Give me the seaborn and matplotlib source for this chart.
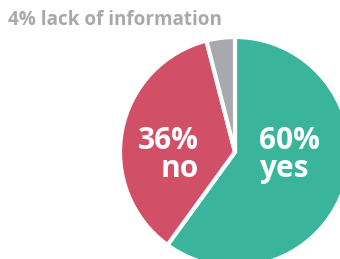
import matplotlib
matplotlib.use("Agg")
import matplotlib.pyplot as plt
import seaborn as sns

sns.set_theme(style="white")
plt.rcParams['font.family'] = ['Open Sans', 'DejaVu Sans']

categories = ["yes", "no", "lack of information"]
values = [60, 36, 4]
colors = ["#3AB59B", "#D14F67", "#A8A9AD"]

fig = plt.figure(figsize=(3.4, 2.59), dpi=100)
ax = fig.add_axes([0, 0, 1, 1])

cx, cy, r = 235, 107, 115
ax.pie(values, colors=colors, startangle=90, counterclock=False,
       center=(cx, cy), radius=r, frame=True,
       wedgeprops=dict(edgecolor="white", linewidth=3))
ax.set_xlim(0, 340)
ax.set_ylim(0, 259)
ax.set_aspect('equal')
ax.axis('off')

lab = dict(color="white", fontsize=21.5, fontweight="bold", va="baseline")
ax.text(259, 110, f"{values[0]}%", ha="left", **lab)
ax.text(259, 82, categories[0], ha="left", **lab)
ax.text(199, 110, f"{values[1]}%", ha="right", **lab)
ax.text(199, 82, categories[1], ha="right", **lab)
fig.text(8 / 340, 1 - 20 / 259, f"{values[2]}% {categories[2]}", color="#A8A9AD",
         fontsize=13.6, fontweight="bold", ha="left", va="center")

fig.savefig("out.png", dpi=100)
